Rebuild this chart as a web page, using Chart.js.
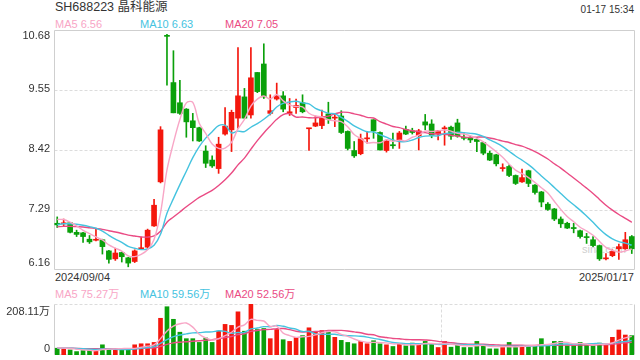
<!DOCTYPE html>
<html>
<head>
<meta charset="utf-8">
<script src="https://cdn.jsdelivr.net/npm/chart.js@4.4.1/dist/chart.umd.min.js"></script>
<style>
  body { margin: 0; width: 640px; height: 360px; background: #fff; position: relative; overflow: hidden;
         font-family: "Liberation Sans", Arial, "Noto Sans CJK SC", sans-serif; color: #333; }
  .t { position: absolute; white-space: nowrap; line-height: 1; }
  canvas { position: absolute; left: 0; }
</style>
</head>
<body>
<div class="t" style="left:55px;top:1px;font-size:12.5px;">SH688223 晶科能源</div>
<div class="t" style="right:6px;top:5px;font-size:10px;">01-17 15:34</div>
<div class="t" id="ma5" style="left:55px;top:18.5px;font-size:11px;color:#f8a6c6;"></div>
<div class="t" id="ma10" style="left:140px;top:18.5px;font-size:11px;color:#45c3df;"></div>
<div class="t" id="ma20" style="left:225px;top:18.5px;font-size:11px;color:#ea4b84;"></div>
<div class="t" style="left:582px;top:243.5px;font-size:11px;color:#cfcfcf;">sina.com</div>
<div class="t" id="d0" style="left:55px;top:272px;font-size:11px;"></div>
<div class="t" id="d1" style="right:6px;top:272px;font-size:11px;"></div>
<div class="t" id="vma5" style="left:55px;top:289px;font-size:11px;color:#f8a6c6;"></div>
<div class="t" id="vma10" style="left:140px;top:289px;font-size:11px;color:#45c3df;"></div>
<div class="t" id="vma20" style="left:225px;top:289px;font-size:11px;color:#ea4b84;"></div>
<canvas id="kline" width="640" height="280" style="top:0"></canvas>
<canvas id="volume" width="640" height="70" style="top:290px"></canvas>
<script>
// daily candles, 2024/09/04 .. 2025/01/17
const opens = [7.04,7.03,7.05,6.87,6.86,6.74,6.72,6.73,6.52,6.37, 6.49,6.39,6.32,6.56,6.59,6.99,7.82,10.58,9.69,9.31,
  9.19,8.97,8.84,8.40,8.23,8.07,8.72,8.80,9.02,9.42, 9.08,9.88,10.04,9.11,9.38,9.44,9.11,9.22,9.31,8.82,
  8.87,8.88,9.10,9.02,9.06,8.77,8.41,8.35,8.63,8.99, 8.75,8.41,8.52,8.59,8.81,8.78,8.69,8.95,8.91,8.72,
  8.82,8.85,8.93,8.66,8.66,8.62,8.56,8.36,8.33,8.07, 8.11,7.94,7.82,8.03,7.76,7.63,7.40,7.31,7.12,7.04,
  6.96,6.90,6.78,6.73,6.62,6.37,6.43,6.56,6.56,6.79];
const highs = [7.16,7.12,7.06,6.91,6.87,6.81,6.93,6.74,6.53,6.57, 6.50,6.40,6.54,6.78,6.93,7.49,8.86,10.60,10.29,9.73,
  9.20,9.11,8.85,8.50,8.31,8.66,9.22,9.17,10.35,9.58, 10.35,9.88,10.42,9.46,9.68,9.52,9.39,9.38,9.46,8.83,
  9.06,9.17,9.32,9.11,9.16,8.78,8.58,8.72,8.77,8.99, 8.76,8.61,8.74,8.77,8.87,8.83,8.81,9.09,8.99,8.79,
  8.87,8.87,9.00,8.74,8.68,8.66,8.57,8.40,8.34,8.16, 8.14,7.95,8.06,8.04,7.77,7.64,7.43,7.32,7.16,7.06,
  7.04,6.91,6.85,6.79,6.63,6.47,6.54,6.65,6.87,6.81];
const lows = [6.96,6.98,6.86,6.79,6.68,6.66,6.71,6.46,6.29,6.34, 6.31,6.22,6.30,6.55,6.57,6.98,7.80,9.64,9.12,9.09,
  8.66,8.59,8.58,8.09,8.09,7.98,8.70,8.39,8.83,9.02, 9.02,9.50,9.39,9.08,9.36,9.14,9.07,9.11,9.12,8.41,
  8.86,8.82,8.92,8.86,8.73,8.42,8.28,8.33,8.55,8.64, 8.42,8.38,8.45,8.45,8.71,8.72,8.42,8.80,8.65,8.61,
  8.51,8.62,8.66,8.61,8.56,8.39,8.33,8.22,8.12,8.02, 7.92,7.77,7.81,7.73,7.59,7.35,7.28,7.09,6.96,6.94,
  6.86,6.76,6.66,6.60,6.34,6.35,6.41,6.36,6.55,6.47];
const closes = [7.01,7.04,6.87,6.83,6.79,6.69,6.73,6.60,6.36,6.48, 6.41,6.29,6.52,6.57,6.91,7.38,8.80,10.56,9.12,9.11,
  8.95,8.84,8.59,8.17,8.12,8.53,8.87,9.13,9.44,9.02, 9.78,9.52,9.42,9.16,9.44,9.19,9.14,9.26,9.14,8.83,
  8.93,9.05,9.00,9.04,8.75,8.45,8.31,8.63,8.64,8.78, 8.42,8.59,8.50,8.74,8.72,8.75,8.78,8.89,8.70,8.78,
  8.83,8.68,8.68,8.64,8.61,8.58,8.36,8.23,8.16,8.08, 7.94,7.79,7.90,7.79,7.62,7.44,7.30,7.12,7.03,6.95,
  6.94,6.79,6.77,6.62,6.37,6.38,6.51,6.60,6.73,6.56];
// volume in 万 (10k shares)
const volumes = [27.7,23.6,20.8,13.9,18.0,18.0,18.0,41.6,23.6,23.6, 23.6,23.6,41.6,45.8,45.8,51.3,149.8,197.0,145.7,93.0,
  66.6,66.6,51.3,69.4,51.3,97.1,124.9,120.7,176.2,97.1, 208.11,104.0,108.2,66.6,104.0,62.4,55.5,72.1,79.1,111.0,
  93.0,99.9,97.1,72.1,59.7,51.3,45.8,55.5,45.8,58.3, 45.8,41.6,34.7,45.8,37.5,48.6,45.8,55.5,45.8,30.5,
  55.5,31.9,41.6,30.5,30.5,55.5,37.5,25.0,25.0,30.5, 51.3,34.7,34.7,34.7,37.5,66.6,41.6,55.5,55.5,37.5,
  37.5,51.3,41.6,37.5,48.6,44.4,72.1,102.0,81.5,79.1];
// sessions before the window (only feed the moving averages)
const priorCloses = [6.85,6.88,6.95,6.90,6.98,7.02,6.92,6.88,6.95,6.97,6.90,6.86,6.93,6.96,6.95,7.05,7.12,7.18,7.20];
const priorVolumes = [30,26,28,35,24,22,30,27,25,29,31,26,24,28,33,30,27,29,32];
// values printed in the legends
const priceMALegend = ['6.56', '6.63', '7.05'];
const volumeMALegend = ['75.27万', '59.56万', '52.56万'];
const priceTicks = [10.68, 9.55, 8.42, 7.29, 6.16];
const volumeTicks = [208.11, 0];
const dateLabels = ['2024/09/04', '2025/01/17'];

const UP = '#f4170d', DOWN = '#0aa00a';
const MA = [
  { n: 5, color: '#f8a6c6' },
  { n: 10, color: '#45c3df' },
  { n: 20, color: '#ea4b84' }
];

function movingAverage(values, prior, n) {
  const all = prior.concat(values);
  return values.map((_, i) => {
    const end = prior.length + i + 1;
    const win = all.slice(Math.max(0, end - n), end);
    return win.reduce((a, b) => a + b, 0) / win.length;
  });
}

const labels = closes.map((_, i) => i);
const candleColors = closes.map((c, i) => c >= opens[i] ? UP : DOWN);
const priceMA = MA.map(m => movingAverage(closes, priorCloses, m.n));
const volumeMA = MA.map(m => movingAverage(volumes, priorVolumes, m.n));

MA.forEach((m, k) => {
  document.getElementById('ma' + m.n).textContent = 'MA' + m.n + ' ' + priceMALegend[k];
  document.getElementById('vma' + m.n).textContent = 'MA' + m.n + ' ' + volumeMALegend[k];
});
document.getElementById('d0').textContent = dateLabels[0];
document.getElementById('d1').textContent = dateLabels[1];

function seg(ctx, x1, y1, x2, y2) {
  ctx.beginPath(); ctx.moveTo(x1, y1); ctx.lineTo(x2, y2); ctx.stroke();
}

// grid, frame and axis labels, placed with the chart's own scales
const panelPlugin = {
  id: 'panel',
  beforeDatasetsDraw(chart, args, opts) {
    const { ctx, chartArea: a, scales: { x, y } } = chart;
    const L = Math.round(a.left) + 0.5, R = Math.round(a.right) - 0.5;
    const T = Math.round(a.top) + 0.5, B = Math.round(a.bottom) - 0.5;
    ctx.save();
    ctx.lineWidth = 1;
    ctx.strokeStyle = '#dcdcdc';
    ctx.setLineDash([3, 2]);
    opts.rows.forEach(v => {
      const py = Math.min(B, Math.max(T, Math.round(y.getPixelForValue(v)) + 0.5));
      seg(ctx, L, py, R, py);
    });
    opts.cols.forEach(v => {
      const px = Math.round(x.getPixelForValue(v)) + 0.5;
      seg(ctx, px, T, px, B);
    });
    ctx.setLineDash([]);
    ctx.strokeStyle = '#cfcfcf';
    if (opts.sides.includes('top')) seg(ctx, L, T, R, T);
    if (opts.sides.includes('bottom')) seg(ctx, L, B, R, B);
    if (opts.sides.includes('left')) seg(ctx, L, T, L, B);
    if (opts.sides.includes('right')) seg(ctx, R, T, R, B);
    ctx.restore();
  },
  afterDraw(chart, args, opts) {
    const { ctx, chartArea: a, scales: { y } } = chart;
    ctx.save();
    ctx.font = '11px "Liberation Sans", Arial, "Noto Sans CJK SC", sans-serif';
    ctx.fillStyle = '#333';
    ctx.textAlign = 'right';
    ctx.textBaseline = 'middle';
    opts.ticks.forEach(v => {
      const py = y.getPixelForValue(v) - 1;
      const ty = Math.min(a.bottom - opts.edgeBottom, Math.max(a.top + opts.edgeTop, py));
      ctx.fillText(opts.format(v), a.left - 4, ty);
    });
    ctx.restore();
  }
};

function maLines(series) {
  return MA.map((m, k) => ({
    type: 'line',
    data: series[k],
    borderColor: m.color,
    borderWidth: 1.4,
    pointRadius: 0,
    tension: 0.35,
    order: 0
  }));
}

new Chart(document.getElementById('kline'), {
  type: 'bar',
  data: {
    labels: labels,
    datasets: maLines(priceMA).concat([
      {
        data: lows.map((l, i) => [l, highs[i]]),
        backgroundColor: candleColors,
        barThickness: 1,
        grouped: false,
        order: 2
      },
      {
        data: opens.map((o, i) => [o, closes[i]]),
        backgroundColor: candleColors,
        barThickness: 5,
        minBarLength: 1,
        grouped: false,
        order: 1
      }
    ])
  },
  options: {
    responsive: false,
    animation: false,
    layout: { padding: { left: 54, right: 5, top: 30, bottom: 10 } },
    scales: {
      x: { display: false, offset: true },
      y: { display: false, min: 6.16, max: 10.68 }
    },
    plugins: {
      legend: { display: false },
      tooltip: { enabled: false },
      panel: {
        rows: priceTicks.slice(1, -1),
        cols: [],
        sides: ['top', 'right', 'bottom', 'left'],
        ticks: priceTicks,
        format: v => v.toFixed(2),
        edgeTop: 5.5,
        edgeBottom: 7
      }
    }
  },
  plugins: [panelPlugin]
});

new Chart(document.getElementById('volume'), {
  type: 'bar',
  data: {
    labels: labels,
    datasets: maLines(volumeMA).concat([
      {
        data: volumes,
        backgroundColor: candleColors,
        barThickness: 4,
        grouped: false,
        order: 1
      }
    ])
  },
  options: {
    responsive: false,
    animation: false,
    layout: { padding: { left: 54, right: 5, top: 14, bottom: 5 } },
    scales: {
      x: { display: false, offset: true },
      y: { display: false, min: 0, max: 208.11 }
    },
    plugins: {
      legend: { display: false },
      tooltip: { enabled: false },
      panel: {
        rows: volumeTicks,
        cols: [59.5],
        sides: ['left', 'right'],
        ticks: volumeTicks,
        format: v => v === 0 ? '0' : v.toFixed(2) + '万',
        edgeTop: 8,
        edgeBottom: 6
      }
    }
  },
  plugins: [panelPlugin]
});
</script>
</body>
</html>
